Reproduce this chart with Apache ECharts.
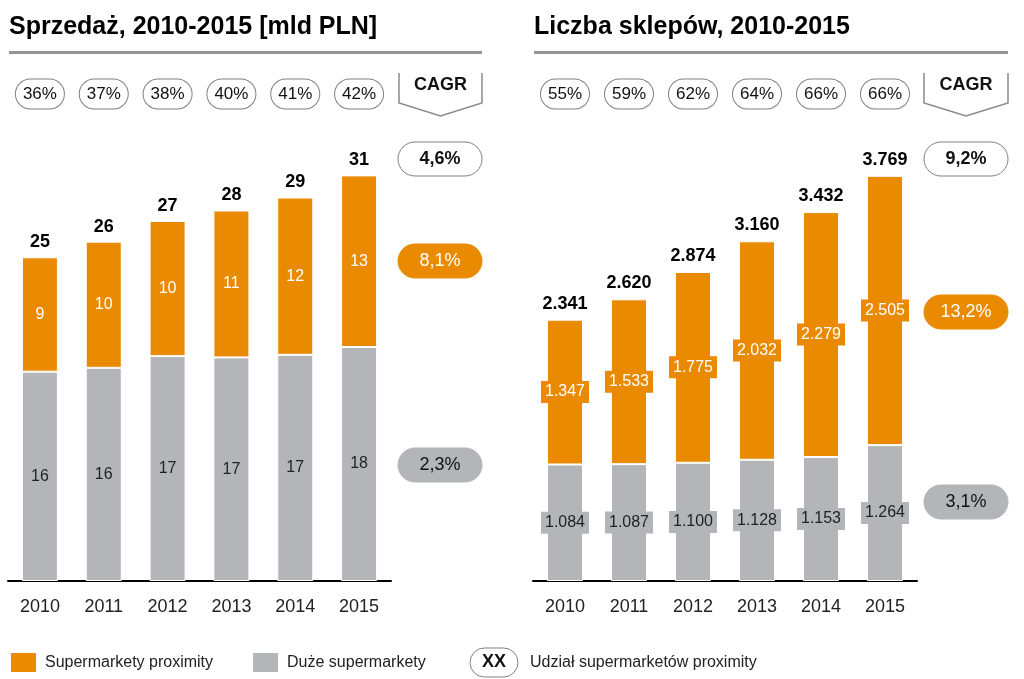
<!DOCTYPE html>
<html>
<head>
<meta charset="utf-8">
<script src="https://cdn.jsdelivr.net/npm/echarts@6/dist/echarts.min.js"></script>
<style>
html,body{margin:0;padding:0;background:#fff;}
#c{width:1024px;height:679px;}
</style>
</head>
<body>
<div id="c"></div>
<script>
// ---- data ----
const years = ['2010', '2011', '2012', '2013', '2014', '2015'];
const salesLarge = [16.1, 16.4, 17.3, 17.2, 17.4, 18.0];
const salesProximity = [8.8, 9.7, 10.4, 11.3, 12.1, 13.2];
const salesTotal = [25, 26, 27, 28, 29, 31];
const salesShare = [36, 37, 38, 40, 41, 42];
const salesCagr = ['4,6%', '8,1%', '2,3%'];

const storesLarge = [1084, 1087, 1100, 1128, 1153, 1264];
const storesProximity = [1347, 1533, 1775, 2032, 2279, 2505];
const storesTotal = [2341, 2620, 2874, 3160, 3432, 3769];
const storesShare = [55, 59, 62, 64, 66, 66];
const storesCagr = ['9,2%', '13,2%', '3,1%'];

const titles = ['Sprzedaż, 2010-2015 [mld PLN]', 'Liczba sklepów, 2010-2015'];
const legendNames = ['Supermarkety proximity', 'Duże supermarkety'];
const shareLegend = 'Udział supermarketów proximity';

// ---- style ----
const ORANGE = '#E98A00';
const GRAY = '#B3B5B8';
const FONT = "'Liberation Sans', Arial, sans-serif";
const RULE = '#959595';

const fmtThousands = v => String(v).replace(/\B(?=(\d{3})+(?!\d))/g, '.');

const chart = echarts.init(document.getElementById('c'), null, {renderer: 'canvas'});

function pillAxisLabel(margin) {
  return {
    margin: margin,
    fontFamily: FONT, fontSize: 17, color: '#111',
    backgroundColor: '#fff', borderColor: '#808080', borderWidth: 1,
    borderRadius: 15, padding: [5, 7], lineHeight: 19
  };
}

function stackSeries(idx, large, prox, total, fmt, boxed, totalDist) {
  const labBase = {show: true, position: 'inside', fontFamily: FONT, fontSize: 16};
  return [
    {
      type: 'bar', name: legendNames[1], xAxisIndex: idx * 2, yAxisIndex: idx, stack: 's' + idx,
      data: large, barWidth: 36,
      itemStyle: {color: GRAY, borderColor: '#fff', borderWidth: 1},
      label: Object.assign({}, labBase, {
        color: '#222', formatter: p => fmt(p.value)
      }, boxed ? {backgroundColor: GRAY, padding: [3, 4]} : {}),
      emphasis: {disabled: true}
    },
    {
      type: 'bar', name: legendNames[0], xAxisIndex: idx * 2, yAxisIndex: idx, stack: 's' + idx,
      data: prox, barWidth: 36,
      itemStyle: {color: ORANGE, borderColor: '#fff', borderWidth: 1},
      label: Object.assign({}, labBase, {
        color: '#fff', formatter: p => fmt(p.value)
      }, boxed ? {backgroundColor: ORANGE, padding: [3, 4]} : {}),
      emphasis: {disabled: true}
    },
    {
      type: 'bar', name: 'total' + idx, xAxisIndex: idx * 2, yAxisIndex: idx, stack: 's' + idx,
      data: years.map(() => 0), barWidth: 36,
      itemStyle: {color: 'transparent'},
      label: {
        show: true, position: 'top', distance: totalDist,
        fontFamily: FONT, fontSize: 18, fontWeight: 'bold', color: '#000',
        formatter: p => fmt(total[p.dataIndex])
      },
      emphasis: {disabled: true}
    }
  ];
}

function pill(cx, cy, text, kind) {
  const w = 84, h = 34;
  const fill = kind === 'o' ? ORANGE : kind === 'g' ? GRAY : '#fff';
  const stroke = kind === 'w' ? '#808080' : fill;
  const color = kind === 'o' ? '#fff' : '#111';
  return [
    {type: 'rect', shape: {x: cx - w / 2, y: cy - h / 2, width: w, height: h, r: 17},
     style: {fill: fill, stroke: stroke, lineWidth: 1}},
    {type: 'text', x: cx, y: cy,
     style: {text: text, fill: color, font: (kind === 'w' ? 'bold ' : '') + '18px ' + FONT,
             align: 'center', verticalAlign: 'middle', textAlign: 'center', textVerticalAlign: 'middle'}}
  ];
}

function chevron(x1, x2, label) {
  const mid = (x1 + x2) / 2;
  return [
    {type: 'polyline', shape: {points: [[x1, 73], [x1, 103], [mid, 116], [x2, 103], [x2, 73]]},
     style: {stroke: '#8a8a8a', lineWidth: 1.5, fill: null}},
    {type: 'text', x: mid, y: 85,
     style: {text: label, fill: '#111', font: 'bold 18px ' + FONT,
             align: 'center', verticalAlign: 'middle', textAlign: 'center', textVerticalAlign: 'middle'}}
  ];
}

const graphics = [].concat(
  [
    {type: 'text', x: 9, y: 27, style: {text: titles[0], fill: '#000', font: 'bold 25px ' + FONT, verticalAlign: 'middle', textVerticalAlign: 'middle'}},
    {type: 'text', x: 534, y: 27, style: {text: titles[1], fill: '#000', font: 'bold 25px ' + FONT, verticalAlign: 'middle', textVerticalAlign: 'middle'}},
    {type: 'rect', shape: {x: 9, y: 51, width: 473, height: 3}, style: {fill: RULE}},
    {type: 'rect', shape: {x: 534, y: 51, width: 474, height: 3}, style: {fill: RULE}}
  ],
  chevron(399, 482, 'CAGR'),
  chevron(924, 1008, 'CAGR'),
  pill(440, 159, salesCagr[0], 'w'),
  pill(440, 261, salesCagr[1], 'o'),
  pill(440, 465, salesCagr[2], 'g'),
  pill(966, 159, storesCagr[0], 'w'),
  pill(966, 312, storesCagr[1], 'o'),
  pill(966, 502, storesCagr[2], 'g'),
  [
    {type: 'rect', shape: {x: 470, y: 648, width: 48, height: 29, r: 14.5},
     style: {fill: '#fff', stroke: '#808080', lineWidth: 1}},
    {type: 'text', x: 494, y: 662.5, style: {text: 'XX', fill: '#111', font: 'bold 18px ' + FONT,
      align: 'center', verticalAlign: 'middle', textAlign: 'center', textVerticalAlign: 'middle'}},
    {type: 'text', x: 530, y: 662.5, style: {text: shareLegend, fill: '#222', font: '16px ' + FONT,
      verticalAlign: 'middle', textVerticalAlign: 'middle'}}
  ]
);

const yearAxis = gi => ({
  type: 'category', gridIndex: gi, data: years, position: 'bottom',
  axisLine: {show: true, lineStyle: {color: '#000', width: 2}},
  axisTick: {show: false},
  axisLabel: {margin: 17, fontFamily: FONT, fontSize: 18, color: '#222'}
});
const shareAxis = (gi, shares, margin) => ({
  type: 'category', gridIndex: gi, position: 'top',
  data: shares.map(v => v + '%'),
  axisLine: {show: false}, axisTick: {show: false},
  axisLabel: pillAxisLabel(margin)
});

const option = {
  animation: false,
  backgroundColor: '#fff',
  grid: [
    {left: 8, width: 383, top: 126, bottom: 98},
    {left: 533, width: 384, top: 151, bottom: 98}
  ],
  xAxis: [
    yearAxis(0), shareAxis(0, salesShare, 17.5),
    yearAxis(1), shareAxis(1, storesShare, 42.5)
  ],
  yAxis: [
    {type: 'value', gridIndex: 0, min: 0, max: 35, show: false, splitLine: {show: false}},
    {type: 'value', gridIndex: 1, min: 0, max: 4000, show: false, splitLine: {show: false}}
  ],
  legend: {
    data: legendNames, left: 9, top: 651, padding: 0, icon: 'rect',
    itemWidth: 27, itemHeight: 21, itemGap: 38, selectedMode: false,
    textStyle: {fontFamily: FONT, fontSize: 16, color: '#222', padding: [0, 0, 0, 3]}
  },
  series: [].concat(
    stackSeries(0, salesLarge, salesProximity, salesTotal, v => String(Math.round(v)), false, 6),
    stackSeries(1, storesLarge, storesProximity, storesTotal, fmtThousands, true, 7)
  ),
  graphic: graphics
};
chart.setOption(option);
</script>
</body>
</html>
